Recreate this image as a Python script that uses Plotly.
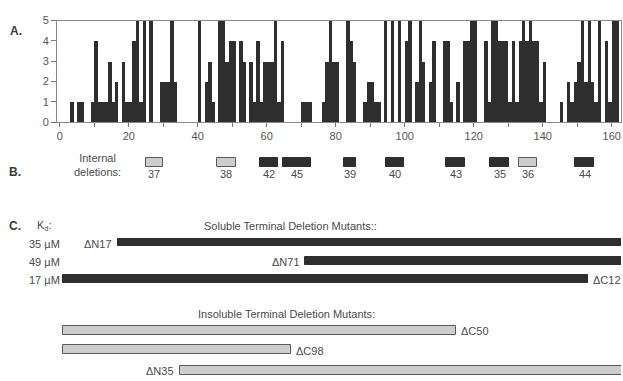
import plotly.graph_objects as go

W, H = 623, 381
ML, MR = 57, 2

# ---------------- Panel A data: value per residue bin ----------------
residue = list(range(162))
score = [0, 0, 0, 1, 0, 1, 1, 0, 0, 1,
         4, 1, 1, 1, 3, 1, 2, 0, 3, 1,
         1, 4, 5, 1, 5, 0, 5, 0, 0, 2,
         2, 2, 5, 2, 0, 0, 0, 0, 0, 0,
         5, 0, 2, 3, 1, 0, 5, 5, 3, 4,
         4, 0, 4, 3, 0, 3, 1, 4, 1, 3,
         3, 3, 5, 1, 4, 0, 0, 0, 0, 0,
         1, 1, 1, 0, 0, 0, 1, 3, 5, 3,
         3, 0, 0, 5, 4, 3, 0, 0, 1, 2,
         2, 1, 1, 0, 5, 0, 5, 0, 5, 0,
         4, 5, 0, 2, 5, 3, 0, 2, 4, 0,
         0, 4, 4, 1, 0, 2, 0, 4, 4, 5,
         5, 0, 0, 4, 1, 5, 5, 4, 4, 4,
         1, 4, 1, 4, 5, 4, 5, 4, 4, 1,
         3, 0, 0, 0, 0, 1, 0, 2, 1, 2,
         3, 5, 2, 5, 2, 1, 5, 0, 4, 1,
         5, 5]
x_tickvals = [0, 10, 20, 30, 40, 50, 60, 70, 80, 90, 100, 110, 120, 130, 140, 150, 160]
x_ticktext = ["0", "", "20", "", "40", "", "60", "", "80", "", "100", "", "120", "", "140", "", "160"]
y_ticks = [0, 1, 2, 3, 4, 5]

# ---------------- Panel B: internal deletions ----------------
del_names = ["37", "38", "42", "45", "39", "40", "43", "35", "36", "44"]
del_start = [25, 45.6, 58, 64.8, 82.5, 94.6, 112, 124.8, 133.1, 149.5]
del_end = [29.9, 51, 63.2, 72.9, 85.9, 99.9, 117.5, 130.2, 138.3, 155]
del_soluble = [False, False, True, True, True, True, True, True, False, True]

# ---------------- Panel C: terminal deletion mutants ----------------
sol_names = ["\u0394N17", "\u0394N71", "\u0394C12"]
sol_start = [17, 71, 1]
sol_end = [170, 170, 153]
sol_kd = ["35 \u00b5M", "49 \u00b5M", "17 \u00b5M"]
ins_names = ["\u0394C50", "\u0394C98", "\u0394N35"]
ins_start = [1, 1, 35]
ins_end = [115, 67, 170]

# layout positions (pixel rows from top of figure)
sol_rows = [244.3, 263.5, 281.7]
ins_rows = [334.7, 354.7, 376.5]
del_row = 161.7

DARK = "#2e2e2e"
LIGHT = "#cdcdcd"
EDGE = "#5a5a5a"
TXT = "#4a4a4a"
FONT = "Liberation Sans, Arial, sans-serif"
X_RANGE = [-0.8, 162.7]


def px2paper(px):
    return (px - ML) / (W - ML - MR)


fig = go.Figure()

fig.add_trace(go.Bar(x=[r + 0.5 for r in residue], y=score, width=1,
                     marker=dict(color=DARK, line=dict(width=0)),
                     xaxis="x", yaxis="y", showlegend=False))

# internal deletion boxes
for sol in (True, False):
    idx = [i for i in range(len(del_names)) if del_soluble[i] == sol]
    fig.add_trace(go.Bar(
        orientation="h",
        y=[del_row] * len(idx),
        base=[del_start[i] for i in idx],
        x=[del_end[i] - del_start[i] for i in idx],
        width=8.7,
        marker=dict(color=DARK if sol else LIGHT,
                    line=dict(color=DARK if sol else EDGE, width=1)),
        xaxis="x2", yaxis="y2", showlegend=False))

# soluble mutants
fig.add_trace(go.Bar(
    orientation="h", y=sol_rows, base=sol_start,
    x=[e - s for s, e in zip(sol_start, sol_end)], width=8,
    marker=dict(color=DARK, line=dict(color=DARK, width=1)),
    xaxis="x2", yaxis="y2", showlegend=False))
# insoluble mutants (one trace per row)
for s, e, r in zip(ins_start, ins_end, ins_rows):
    fig.add_trace(go.Bar(
        orientation="h", y=[r], base=[s], x=[e - s], width=9,
        marker=dict(color=LIGHT, line=dict(color=EDGE, width=1)),
        xaxis="x2", yaxis="y2", showlegend=False, cliponaxis=False))

ann = []


def txt(text, x, y, xref="paper", xanchor="center", size=11, color=TXT, xshift=0):
    ann.append(dict(text=text, x=x, y=y, xref=xref, yref="y2", xanchor=xanchor,
                    yanchor="middle", showarrow=False, xshift=xshift,
                    font=dict(family=FONT, size=size, color=color)))


txt("<b>A.</b>", px2paper(16), 25.5, size=12, color="#3a3a3a")
txt("<b>B.</b>", px2paper(15), 171.5, size=12, color="#3a3a3a")
txt("<b>C.</b>", px2paper(15), 227, size=12, color="#3a3a3a")
txt("K<sub>d</sub>:", px2paper(35), 227, xanchor="left")
txt("Internal<br>deletions:", px2paper(97.5), 164.5)
for n, s, e in zip(del_names, del_start, del_end):
    txt(n, (s + e) / 2, 173.5, xref="x2")
txt("Soluble Terminal Deletion Mutants::", px2paper(290), 227)
txt("Insoluble Terminal Deletion Mutants:", px2paper(286), 318)
for kd, r in zip(sol_kd, sol_rows):
    txt(kd, px2paper(61.5), r + 1, xanchor="right")
txt(sol_names[0], sol_start[0], sol_rows[0] + 1, xref="x2", xanchor="right", xshift=-4)
txt(sol_names[1], sol_start[1], sol_rows[1] + 1, xref="x2", xanchor="right", xshift=-3)
txt(sol_names[2], sol_end[2], sol_rows[2] + 1, xref="x2", xanchor="left", xshift=3)
txt(ins_names[0], ins_end[0], ins_rows[0] + 1, xref="x2", xanchor="left", xshift=3)
txt(ins_names[1], ins_end[1], ins_rows[1] + 1, xref="x2", xanchor="left", xshift=3)
txt(ins_names[2], ins_start[2], ins_rows[2], xref="x2", xanchor="right", xshift=-4)

fig.update_layout(
    width=W, height=H, autosize=False,
    margin=dict(l=ML, r=MR, t=0, b=0, pad=0),
    paper_bgcolor="white", plot_bgcolor="rgba(0,0,0,0)",
    bargap=0, barmode="overlay",
    annotations=ann,
    font=dict(family=FONT, size=11, color="#555555"),
    xaxis=dict(range=X_RANGE, tickmode="array", tickvals=x_tickvals, ticktext=x_ticktext,
               ticks="outside", ticklen=4,
               tickcolor="#777777", showline=True, linecolor="#8a8a8a", mirror=True,
               showgrid=False, zeroline=False, anchor="y", domain=[0, 1],
               tickfont=dict(family=FONT, size=11, color="#555555")),
    yaxis=dict(domain=[1 - 120 / H, 1 - 15 / H], range=[0, 5], tickmode="array",
               tickvals=y_ticks, ticks="outside", ticklen=5, tickcolor="#777777",
               showline=True, linecolor="#8a8a8a", mirror=True, showgrid=False,
               zeroline=False, anchor="x",
               tickfont=dict(family=FONT, size=11, color="#555555")),
    xaxis2=dict(range=X_RANGE, domain=[0, 1], visible=False, anchor="y2"),
    yaxis2=dict(domain=[0, 1], range=[H, 0], visible=False, anchor="x2"),
)

fig.write_html("out.html", config={"displayModeBar": False},
               post_script="document.body.style.margin='0px';")
